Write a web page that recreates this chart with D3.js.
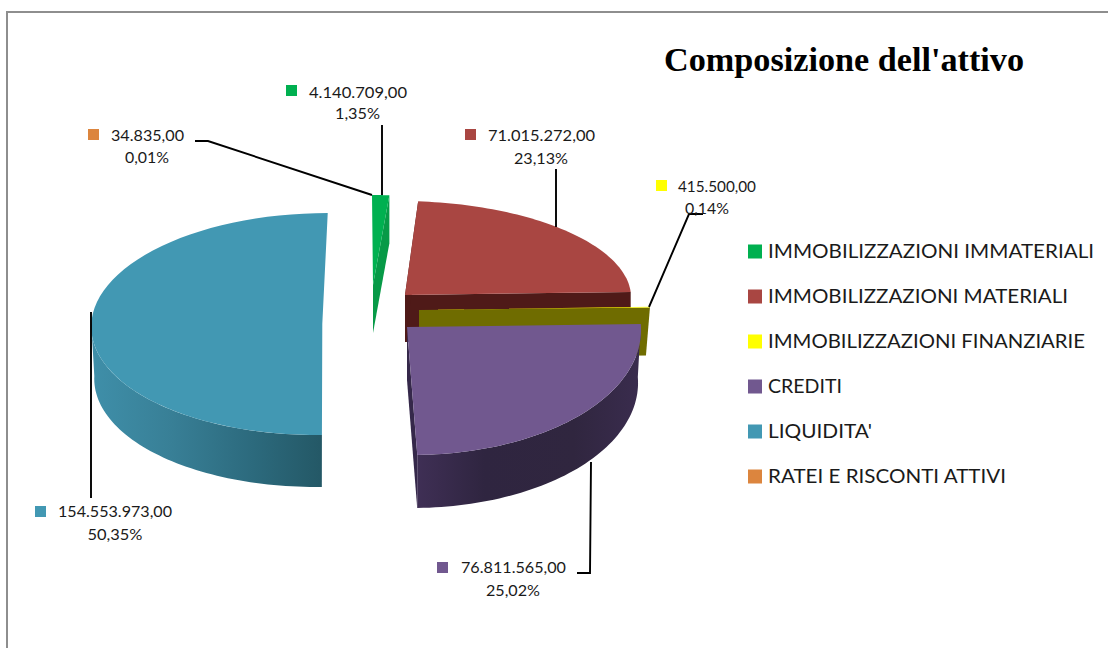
<!DOCTYPE html>
<html><head><meta charset="utf-8">
<script src="https://cdn.jsdelivr.net/npm/d3@7/dist/d3.min.js"></script>
<style>html,body{margin:0;padding:0;background:#fff}svg{display:block}</style>
</head><body><svg id="c" width="1108" height="648"></svg>
<script>
const categories=["IMMOBILIZZAZIONI IMMATERIALI","IMMOBILIZZAZIONI MATERIALI","IMMOBILIZZAZIONI FINANZIARIE","CREDITI","LIQUIDITA'","RATEI E RISCONTI ATTIVI"];
const values=[4140709,71015272,415500,76811565,154553973,34835];
const valueLabels=["4.140.709,00","71.015.272,00","415.500,00","76.811.565,00","154.553.973,00","34.835,00"];
const percentLabels=["1,35%","23,13%","0,14%","25,02%","50,35%","0,01%"];
const colors=["#00b050","#a94642","#ffff00","#71588f","#4298b3","#dc853e"];
const title="Composizione dell'attivo";

const svg=d3.select("#c");
const defs=svg.append("defs");
function grad(id,stops){
  const g=defs.append("linearGradient").attr("id",id).attr("x1",0).attr("x2",1).attr("y1",0).attr("y2",0);
  stops.forEach(s=>g.append("stop").attr("offset",s[0]).attr("stop-color",s[1]));
}
grad("wallBlue",[[0,"#3f8fa9"],[0.35,"#387f96"],[0.7,"#2c6a7d"],[1,"#245866"]]);
grad("wallPurple",[[0,"#3f2f55"],[0.3,"#2f2540"],[0.7,"#30263f"],[1,"#3a2c4e"]]);

// frame
svg.append("path").attr("d","M7,648V12H1108").attr("fill","none").attr("stroke","#8e8e8e").attr("stroke-width",2);

// one projected ellipse per exploded slice; t narrows the wall toward its base
const proj=[
 {cx:373,cy:285,rx:205,ry:90,s:-1,d:48,t:0},
 {cx:405,cy:295,rx:226,ry:94,s:-6,d:47,t:0},
 {cx:419,cy:310,rx:231,ry:100,s:0,d:48,t:-4},
 {cx:407,cy:327,rx:234,ry:128,s:-5,d:53,t:-3},
 {cx:322.3,cy:324,rx:231,ry:111,s:5.6,d:52,t:-3},
 {cx:373,cy:285,rx:205,ry:90,s:-1,d:48,t:0}
];
const arcs=d3.pie().sort(null).value(d=>d)(values);
const pt=(p,a,dz=0)=>[p.cx+p.rx*Math.sin(a)+p.s*Math.cos(a)+p.t*Math.sin(a)*(dz/p.d),p.cy-p.ry*Math.cos(a)+dz];
const line=d3.line();
const samples=(a0,a1)=>d3.range(0,61).map(i=>a0+(a1-a0)*i/60);
const g=svg.append("g");

function topPath(i){
  const p=proj[i],A=arcs[i];
  return line([[p.cx,p.cy],...samples(A.startAngle,A.endAngle).map(a=>pt(p,a))])+"Z";
}
function wallPath(i,a0,a1){
  const p=proj[i];
  const s=samples(a0,a1);
  return line([...s.map(a=>pt(p,a)),...s.slice().reverse().map(a=>pt(p,a,p.d))])+"Z";
}
function facePath(i,a){
  const p=proj[i];
  return line([[p.cx,p.cy],pt(p,a),pt(p,a,p.d),[p.cx,p.cy+p.d]])+"Z";
}

// green
g.append("path").attr("d",facePath(0,arcs[0].endAngle)).attr("fill","#079a47");
g.append("path").attr("d",topPath(0)).attr("fill",colors[0]);
// red
g.append("path").attr("d",facePath(1,arcs[1].endAngle)).attr("fill","#4f1a18");
g.append("path").attr("d",facePath(1,arcs[1].startAngle)).attr("fill","#4f1a18");
g.append("path").attr("d",topPath(1)).attr("fill",colors[1]);
// yellow
g.append("path").attr("d",facePath(2,arcs[2].endAngle)).attr("fill","#6f6c00");
g.append("path").attr("d",topPath(2)).attr("fill",colors[2]);
// purple
g.append("path").attr("d",facePath(3,arcs[3].endAngle)).attr("fill","#35284a");
g.append("path").attr("d",wallPath(3,arcs[3].startAngle,arcs[3].endAngle)).attr("fill","url(#wallPurple)");
g.append("path").attr("d",topPath(3)).attr("fill",colors[3]);
// blue
g.append("path").attr("d",wallPath(4,arcs[4].startAngle,Math.PI*1.5)).attr("fill","url(#wallBlue)");
g.append("path").attr("d",topPath(4)).attr("fill",colors[4]);

// leader lines
const leaderData=[
 [[382,125],[382,195]],
 [[556,169],[556,227]],
 [[703,214],[689,214],[649,307]],
 [[577,573],[590,573],[591,462]],
 [[91,498],[91,312]],
 [[195,141],[208,141],[372,195]]
];
svg.append("g").selectAll("path").data(leaderData).join("path")
  .attr("d",d=>line(d)).attr("fill","none").attr("stroke","#000").attr("stroke-width",1.9);

// data labels
const labelPos=[
 {sx:286,sy:85,tx:309,tw:98,y:93,cx:357.5,pw:45,cy:114},
 {sx:465,sy:129,tx:488,tw:107,y:136,cx:541,pw:54,cy:159},
 {sx:656,sy:180,tx:678,tw:78,y:187,cx:707,pw:44,cy:209},
 {sx:437,sy:562,tx:461,tw:105,y:568,cx:513,pw:54,cy:591},
 {sx:35,sy:506,tx:58,tw:114,y:512,cx:115,pw:55,cy:535},
 {sx:88,sy:129,tx:111,tw:73,y:136,cx:147,pw:44,cy:158}
];
const lab=svg.append("g").attr("font-family","Lato, sans-serif").attr("font-size",15.5).attr("fill","#1a1a1a");
labelPos.forEach((p,i)=>{
  lab.append("rect").attr("x",p.sx).attr("y",p.sy).attr("width",11).attr("height",11).attr("fill",colors[i]);
  lab.append("text").attr("x",p.tx).attr("y",p.y).attr("dy","0.35em").attr("textLength",p.tw).attr("lengthAdjust","spacingAndGlyphs").text(valueLabels[i]);
  lab.append("text").attr("x",p.cx).attr("y",p.cy).attr("dy","0.35em").attr("text-anchor","middle").attr("textLength",p.pw).attr("lengthAdjust","spacingAndGlyphs").text(percentLabels[i]);
});

// legend
const legW=[326,300,317,74,104,238];
const y=d3.scalePoint().domain(categories).range([251.5,476.5]);
const leg=svg.append("g").attr("font-family","Lato, sans-serif").attr("font-size",18.5).attr("fill","#1a1a1a");
categories.forEach((c,i)=>{
  leg.append("rect").attr("x",748).attr("y",y(c)-7).attr("width",14).attr("height",14).attr("fill",colors[i]);
  leg.append("text").attr("x",768).attr("y",y(c)).attr("dy","0.36em").attr("textLength",legW[i]).attr("lengthAdjust","spacingAndGlyphs").text(c);
});

// title
svg.append("text").attr("x",664).attr("y",71).attr("font-family","'Liberation Serif', serif").attr("font-weight","bold").attr("font-size",33).attr("textLength",360).attr("lengthAdjust","spacingAndGlyphs").attr("fill","#000").text(title);
</script></body></html>
